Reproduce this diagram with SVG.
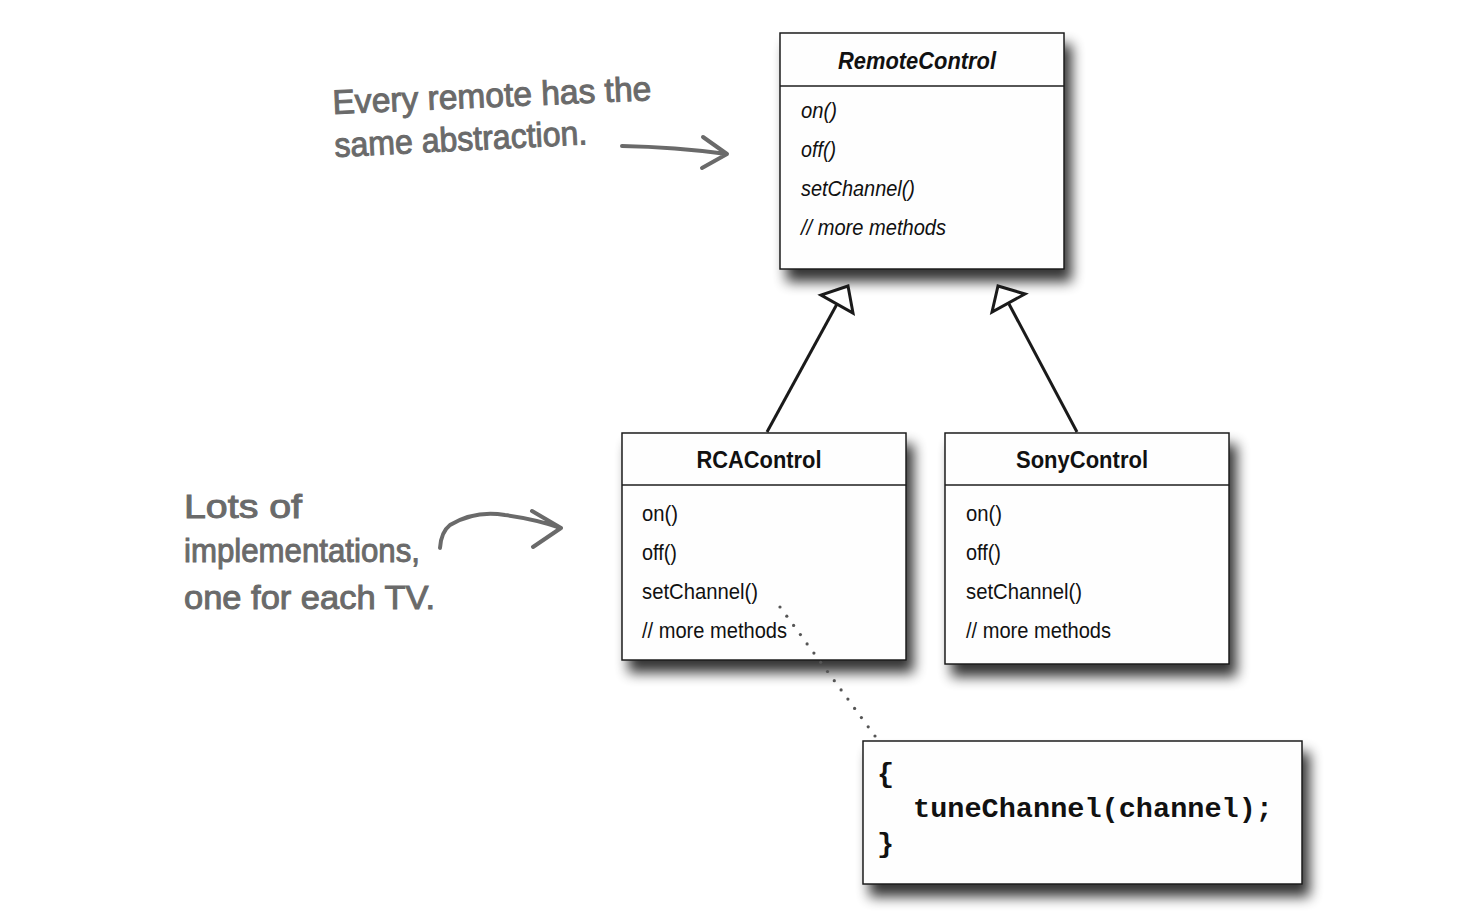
<svg xmlns="http://www.w3.org/2000/svg" width="1474" height="920" viewBox="0 0 1474 920">
<defs>
<filter id="shadow" x="-10%" y="-10%" width="130%" height="150%">
<feGaussianBlur in="SourceAlpha" stdDeviation="6.5"/>
<feOffset dx="7" dy="12" result="b"/>
<feComponentTransfer><feFuncA type="linear" slope="0.8"/></feComponentTransfer>
<feMerge><feMergeNode/><feMergeNode in="SourceGraphic"/></feMerge>
</filter>
</defs>
<style>
.box{fill:#fefefe;stroke:#1e1e1e;stroke-width:1.5}
.div{stroke:#1e1e1e;stroke-width:1.3}
.title{font-family:"Liberation Sans",Arial,sans-serif;font-weight:bold;font-size:23px;fill:#111;text-anchor:middle}
.m{font-family:"Liberation Sans",Arial,sans-serif;font-size:22px;fill:#111}
.it{font-style:italic}
.code{font-family:"Liberation Mono","Courier New",monospace;font-weight:bold;font-size:28.5px;fill:#111}
.hand{font-family:"Liberation Sans",sans-serif;font-size:34px;fill:#6a6a6a;stroke:#6a6a6a;stroke-width:1}
.harrow{fill:none;stroke:#6a6a6a;stroke-width:4;stroke-linecap:round;stroke-linejoin:round}
.inh{fill:none;stroke:#1a1a1a;stroke-width:3}
.tri{fill:#fff;stroke:#1a1a1a;stroke-width:3;stroke-linejoin:miter}
.dot{fill:#555}
</style>
<rect width="1474" height="920" fill="#ffffff"/>

<g id="RemoteControl">
<rect class="box" x="780" y="33" width="284" height="236" filter="url(#shadow)"/>
<line class="div" x1="780" y1="86" x2="1064" y2="86"/>
<text class="title it" x="917" y="69" textLength="158" lengthAdjust="spacingAndGlyphs">RemoteControl</text>
<text class="m it" x="801" y="118" textLength="36" lengthAdjust="spacingAndGlyphs">on()</text>
<text class="m it" x="801" y="157" textLength="35" lengthAdjust="spacingAndGlyphs">off()</text>
<text class="m it" x="801" y="196" textLength="114" lengthAdjust="spacingAndGlyphs">setChannel()</text>
<text class="m it" x="801" y="235" textLength="145" lengthAdjust="spacingAndGlyphs">// more methods</text>
</g>

<g id="RCAControl">
<rect class="box" x="622" y="433" width="284" height="227" filter="url(#shadow)"/>
<line class="div" x1="622" y1="485" x2="906" y2="485"/>
<text class="title" x="759" y="468" textLength="125" lengthAdjust="spacingAndGlyphs">RCAControl</text>
<text class="m" x="642" y="521" textLength="36" lengthAdjust="spacingAndGlyphs">on()</text>
<text class="m" x="642" y="560" textLength="35" lengthAdjust="spacingAndGlyphs">off()</text>
<text class="m" x="642" y="599" textLength="116" lengthAdjust="spacingAndGlyphs">setChannel()</text>
<text class="m" x="642" y="638" textLength="145" lengthAdjust="spacingAndGlyphs">// more methods</text>
</g>

<g id="SonyControl">
<rect class="box" x="945" y="433" width="284" height="231" filter="url(#shadow)"/>
<line class="div" x1="945" y1="485" x2="1229" y2="485"/>
<text class="title" x="1082" y="468" textLength="132" lengthAdjust="spacingAndGlyphs">SonyControl</text>
<text class="m" x="966" y="521" textLength="36" lengthAdjust="spacingAndGlyphs">on()</text>
<text class="m" x="966" y="560" textLength="35" lengthAdjust="spacingAndGlyphs">off()</text>
<text class="m" x="966" y="599" textLength="116" lengthAdjust="spacingAndGlyphs">setChannel()</text>
<text class="m" x="966" y="638" textLength="145" lengthAdjust="spacingAndGlyphs">// more methods</text>
</g>

<g id="CodeNote">
<rect class="box" x="863" y="741" width="439" height="143" filter="url(#shadow)"/>
<text class="code" x="877" y="782">{</text>
<text class="code" x="913" y="817" textLength="360" lengthAdjust="spacingAndGlyphs">tuneChannel(channel);</text>
<text class="code" x="877" y="852">}</text>
</g>

<g id="note-abstraction">
<text class="hand" x="333" y="114" transform="rotate(-2.5 333 114)" textLength="319" lengthAdjust="spacingAndGlyphs">Every remote has the</text>
<text class="hand" x="335" y="157" transform="rotate(-2.9 335 157)" textLength="253" lengthAdjust="spacingAndGlyphs">same abstraction.</text>
</g>

<g id="note-implementations">
<text class="hand" x="184" y="518" textLength="118" lengthAdjust="spacingAndGlyphs">Lots of</text>
<text class="hand" x="184" y="562" textLength="236" lengthAdjust="spacingAndGlyphs">implementations,</text>
<text class="hand" x="184" y="609" textLength="251" lengthAdjust="spacingAndGlyphs">one for each TV.</text>
</g>

<g id="connectors">
<line class="inh" x1="767" y1="432" x2="837" y2="304"/>
<polygon class="tri" points="848,286 821,295 853,313"/>
<line class="inh" x1="1077" y1="432" x2="1009" y2="304"/>
<polygon class="tri" points="998,286 1025,294 992,312"/>
<path class="harrow" d="M622,146 Q675,147 727,154 M703,137 L727,154 L702,168"/>
<path class="harrow" d="M440,548 Q441,532 450,525 Q475,510 505,515 Q535,519 561,528 M532,511 L561,528 L533,547"/>
<g class="dot">
<circle cx="780" cy="607" r="1.6"/>
<circle cx="786.8" cy="616.2" r="1.6"/>
<circle cx="793.6" cy="625.4" r="1.6"/>
<circle cx="800.4" cy="634.6" r="1.6"/>
<circle cx="807.1" cy="643.9" r="1.6"/>
<circle cx="813.9" cy="653.1" r="1.6"/>
<circle cx="820.7" cy="662.3" r="1.6"/>
<circle cx="827.5" cy="671.5" r="1.6"/>
<circle cx="834.3" cy="680.7" r="1.6"/>
<circle cx="841.1" cy="689.9" r="1.6"/>
<circle cx="847.9" cy="699.1" r="1.6"/>
<circle cx="854.6" cy="708.4" r="1.6"/>
<circle cx="861.4" cy="717.6" r="1.6"/>
<circle cx="868.2" cy="726.8" r="1.6"/>
<circle cx="875" cy="736" r="1.6"/>
</g>
</g>
</svg>
